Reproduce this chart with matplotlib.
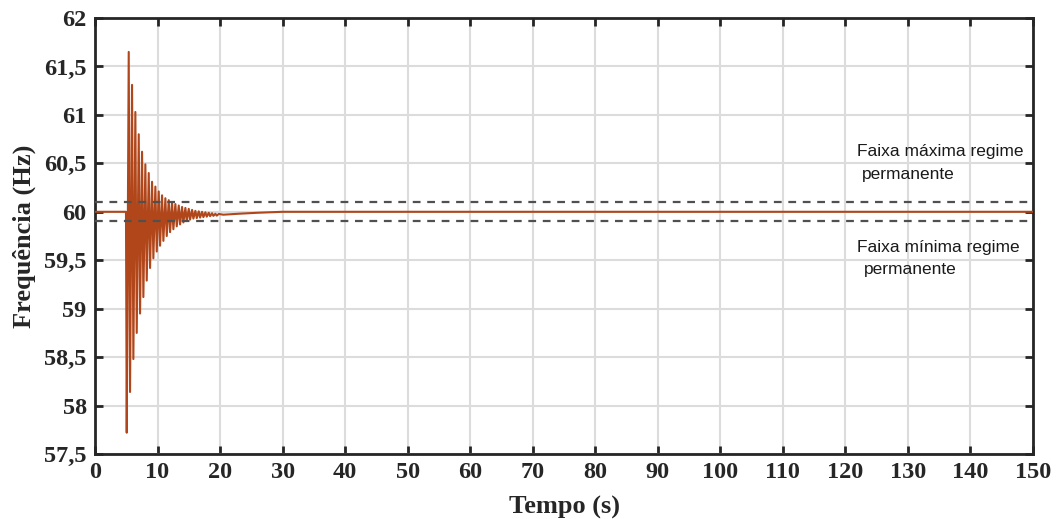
import matplotlib
matplotlib.use('Agg')
import matplotlib.pyplot as plt
import numpy as np

# picos da oscilação (s, Hz)
t_min = [5.07, 5.60, 6.13, 6.67, 7.20, 7.73, 8.27, 8.80, 9.33, 9.87, 10.40, 10.93, 11.47, 12.00,
         12.53, 13.07, 13.60, 14.13, 14.67, 15.20, 15.73, 16.27, 16.80, 17.33, 17.87, 18.40, 18.93, 19.47]
f_min = [57.72, 58.14, 58.48, 58.75, 58.95, 59.12, 59.29, 59.42, 59.52, 59.59, 59.65, 59.70, 59.75, 59.79,
         59.82, 59.85, 59.87, 59.89, 59.905, 59.92, 59.93, 59.935, 59.94, 59.945, 59.95, 59.955, 59.958, 59.96]
t_max = [5.39, 5.92, 6.45, 6.99, 7.52, 8.05, 8.59, 9.12, 9.65, 10.19, 10.72, 11.25, 11.79, 12.32,
         12.85, 13.39, 13.92, 14.45, 14.99, 15.52, 16.05, 16.59, 17.12, 17.65, 18.19, 18.72, 19.25, 19.79]
f_max = [61.65, 61.31, 61.03, 60.80, 60.62, 60.49, 60.40, 60.31, 60.26, 60.21, 60.17, 60.14, 60.12, 60.10,
         60.08, 60.065, 60.05, 60.04, 60.03, 60.02, 60.01, 60.005, 60.0, 59.995, 59.99, 59.985, 59.98, 59.978]
t_pre = [0.0, 4.95]
f_pre = [60.0, 60.0]
t_pos = [20.5, 23.0, 26.0, 30.0, 150.0]
f_pos = [59.97, 59.98, 59.99, 60.0, 60.0]

faixa_max = 60.1
faixa_min = 59.9

xticks = list(range(0, 151, 10))
yticks = [57.5, 58, 58.5, 59, 59.5, 60, 60.5, 61, 61.5, 62]
ylabels = ['57,5', '58', '58,5', '59', '59,5', '60', '60,5', '61', '61,5', '62']

# monta a curva: antes, zigue-zague dos picos, depois
t = list(t_pre)
f = list(f_pre)
for a, b, c, d in zip(t_min, f_min, t_max, f_max):
    t += [a, c]
    f += [b, d]
t += t_pos
f += f_pos

plt.rcParams['font.family'] = ['Liberation Serif', 'DejaVu Serif']

fig = plt.figure(figsize=(10.57, 5.19), dpi=100)
ax = fig.add_axes([0.0899, 0.1252, 0.8874, 0.8401])

ax.plot(t, f, color='#B0461A', lw=1.5, zorder=3)
ax.axhline(faixa_max, color='#505050', ls=(0, (3.5, 3)), lw=1.6, zorder=4)
ax.axhline(faixa_min, color='#505050', ls=(0, (3.5, 3)), lw=1.6, zorder=4)

ax.text(121.9, 60.62, 'Faixa máxima regime', family=['Liberation Sans'], fontsize=12.5,
        va='center', ha='left', color='#1a1a1a')
ax.text(122.6, 60.39, 'permanente', family=['Liberation Sans'], fontsize=12.5,
        va='center', ha='left', color='#1a1a1a')
ax.text(121.9, 59.63, 'Faixa mínima regime', family=['Liberation Sans'], fontsize=12.5,
        va='center', ha='left', color='#1a1a1a')
ax.text(123.0, 59.40, 'permanente', family=['Liberation Sans'], fontsize=12.5,
        va='center', ha='left', color='#1a1a1a')

ax.set_xlim(0, 150)
ax.set_ylim(57.5, 62)
ax.set_xticks(xticks)
ax.set_yticks(yticks)
ax.set_yticklabels(ylabels)
ax.grid(True, color='#dcdcdc', lw=1.5)
ax.set_axisbelow(True)

for s in ax.spines.values():
    s.set_linewidth(2)
    s.set_color('#262626')
ax.tick_params(direction='in', length=6, width=2, color='#262626',
               top=True, right=True, labelsize=17.5, labelcolor='#262626', pad=6)
for lab in ax.get_xticklabels() + ax.get_yticklabels():
    lab.set_fontweight('bold')

ax.set_xlabel('Tempo (s)', fontsize=19, fontweight='bold', color='#262626', labelpad=9)
ax.set_ylabel('Frequência (Hz)', fontsize=19, fontweight='bold', color='#262626', labelpad=6)

fig.savefig('out.png', dpi=100)
